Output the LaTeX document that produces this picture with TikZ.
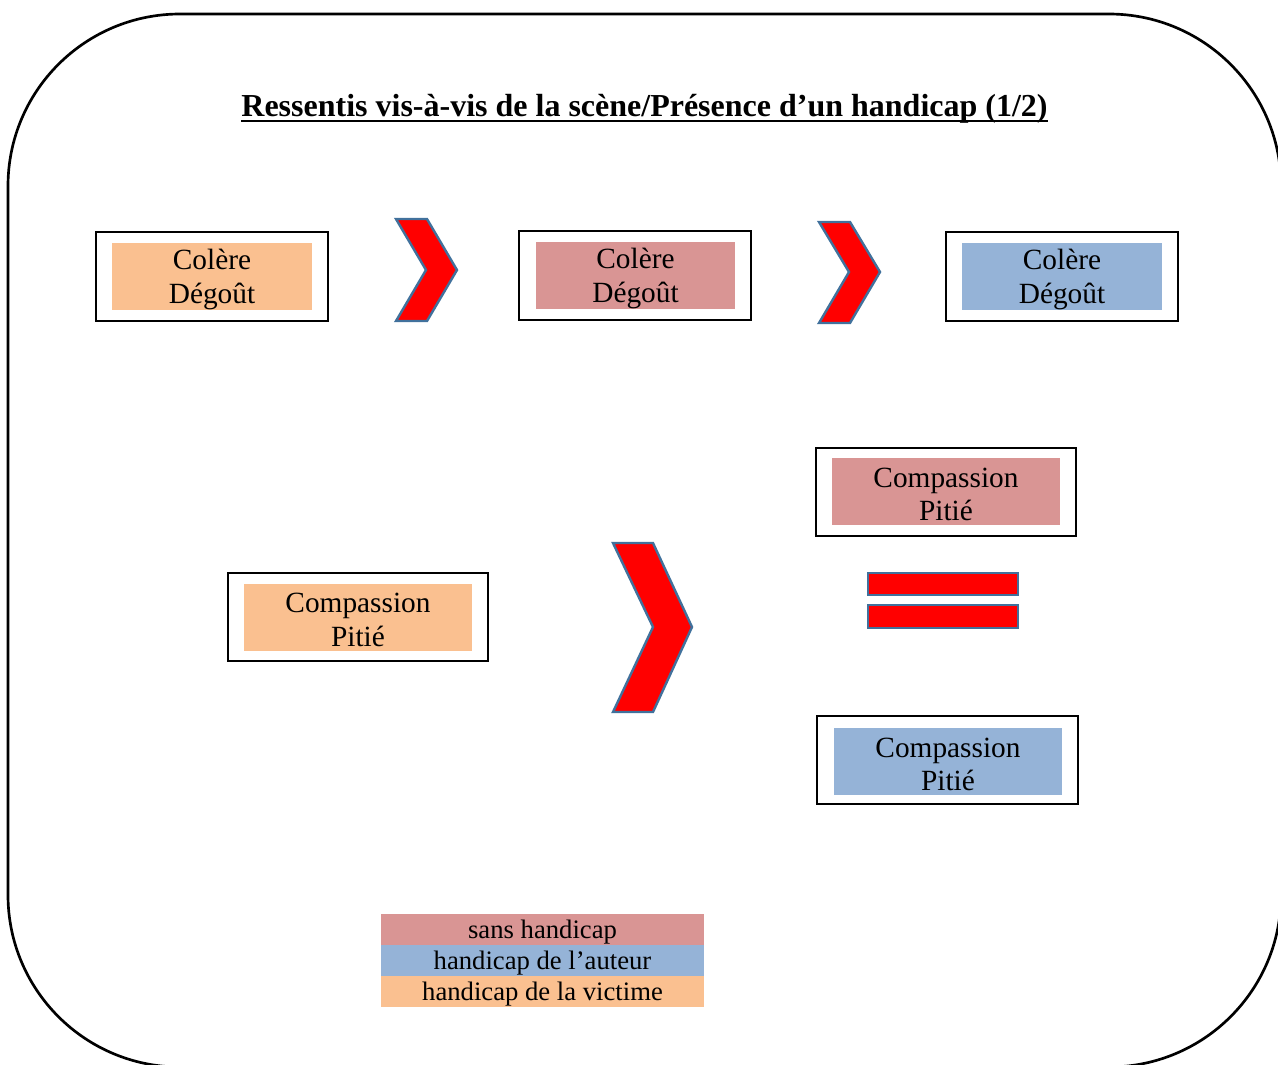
\documentclass[tikz,border=0pt]{standalone}
\usepackage{fontspec}
\setmainfont{Liberation Serif}
\definecolor{peach}{HTML}{FAC090}
\definecolor{rose}{HTML}{D99594}
\definecolor{sky}{HTML}{95B3D7}
\definecolor{chevline}{HTML}{41719C}
\begin{document}
\begin{tikzpicture}[x=0.75pt,y=-0.75pt,
  outerbox/.style={draw=black,line width=1.5pt,fill=white,inner sep=0pt,minimum width=#1},
  outerbox/.default=174pt,
  fillbox/.style={fill=#1,inner sep=0pt,minimum height=50.25pt},
  boxtext/.style={label={[yshift=-2.3pt,inner sep=0pt,align=center,
    font=\fontsize{22}{25}\selectfont]center:#1}},
  chev/.style={fill=red,draw=chevline,line width=1.8pt,line join=miter},
  legrow/.style={fill=#1,inner sep=0pt,minimum width=242.25pt,minimum height=23.25pt},
  legtext/.style={label={[yshift=-2pt,inner sep=0pt,font=\fontsize{20}{22}\selectfont]center:#1}}]
\useasboundingbox (0,0) rectangle (1278,1064);
\begin{scope}
\clip (0,0) rectangle (1278,1064);
\draw[line width=2pt,rounded corners=129pt] (8,14) rectangle (1281,1067);
\end{scope}
% title
\node[anchor=base,inner sep=0pt,font=\fontsize{24}{28}\selectfont\bfseries] (title) at (644.5,116)
  {Ressentis vis-à-vis de la scène/Présence d’un handicap (1/2)};
\draw[line width=1.6pt] ([yshift=-3.5pt]title.base west) -- ([yshift=-3.5pt]title.base east);
% row 1
\node[outerbox,minimum height=66.75pt] (o1) at (212,276.5) {};
\node[fillbox=peach,minimum width=150pt,boxtext={Colère\\Dégoût}] (b1) at (212,276.5) {};
\node[outerbox,minimum height=66.75pt] (o2) at (635,275.5) {};
\node[fillbox=rose,minimum width=149.25pt,boxtext={Colère\\Dégoût}] (b2) at (635.5,275.5) {};
\node[outerbox,minimum height=66.75pt] (o3) at (1062,276.5) {};
\node[fillbox=sky,minimum width=150pt,boxtext={Colère\\Dégoût}] (b3) at (1062,276.5) {};
\draw[chev] (396,219) -- (427,219) -- (457,270) -- (427,321) -- (396,321) -- (426,270) -- cycle;
\draw[chev] (819,222) -- (850,222) -- (880,272) -- (850,323) -- (819,323) -- (849,272) -- cycle;
% row 2
\node[outerbox=195pt,minimum height=66pt] (o4) at (946,492) {};
\node[fillbox=rose,minimum width=171pt,boxtext={Compassion\\Pitié}] (b4) at (946,491.5) {};
\node[outerbox=195pt,minimum height=66pt] (o5) at (358,617) {};
\node[fillbox=peach,minimum width=171pt,boxtext={Compassion\\Pitié}] (b5) at (358,617) {};
\node[outerbox=195.75pt,minimum height=66pt] (o6) at (947.5,760) {};
\node[fillbox=sky,minimum width=171pt,boxtext={Compassion\\Pitié}] (b6) at (948,761.5) {};
\draw[chev] (613,543) -- (653,543) -- (692,627) -- (653,712) -- (613,712) -- (653,627) -- cycle;
\draw[chev] (868,573) rectangle (1018,595);
\draw[chev] (868,605) rectangle (1018,628);
% legend
\node[legrow=rose,legtext={sans handicap}] (l1) at (542.5,929.5) {};
\node[legrow=sky,legtext={handicap de l’auteur}] (l2) at (542.5,960.5) {};
\node[legrow=peach,legtext={handicap de la victime}] (l3) at (542.5,991) {};
\end{tikzpicture}
\end{document}
